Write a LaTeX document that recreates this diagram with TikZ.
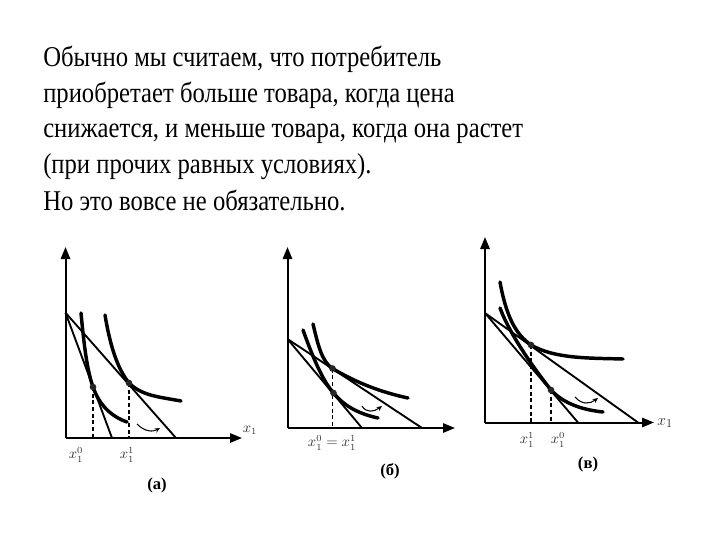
\documentclass[tikz,border=0pt]{standalone}
\usepackage{fontspec}
\setmainfont{Liberation Serif}
\newfontfamily\rusfont{Liberation Serif}[FakeStretch=0.86]
\usetikzlibrary{arrows.meta}
\tikzset{
  para/.style={anchor=base west, inner sep=0pt, font=\rusfont\fontsize{21.5}{24}\selectfont},
  axis/.style={line width=1.5pt, -{Triangle[length=9pt,width=7pt]}},
  budget/.style={line width=1.4pt},
  icurve/.style={line width=2.6pt, line cap=round},
  guide/.style={line width=0.8pt, dash pattern=on 3pt off 2pt},
  dot/.style={circle, fill=black!85, inner sep=0pt, minimum size=5pt},
  shiftarrow/.style={line width=0.8pt, -{Stealth[length=4pt,width=3.5pt]}},
  tick/.style={font=\fontsize{10.5}{12}\selectfont, text=black!80, inner sep=0pt},
  panel/.style={font=\bfseries\fontsize{12.5}{14}\selectfont, inner sep=0pt}
}
\begin{document}
\begin{tikzpicture}[x=0.75pt,y=-0.75pt]
\useasboundingbox (0,0) rectangle (720,540);
% text
\node[para] (t1) at (43,66) {Обычно мы считаем, что потребитель};
\node[para] (t2) at (43,102) {приобретает больше товара, когда цена};
\node[para] (t3) at (43,137) {снижается, и меньше товара, когда она растет};
\node[para] (t4) at (43,173) {(при прочих равных условиях).};
\node[para] (t5) at (43,210) {Но это вовсе не обязательно.};

% ---------- panel (a) ----------
\coordinate (aO) at (65.5,438);
\coordinate (aY) at (65.5,247);
\coordinate (aX) at (242,438);
\coordinate (aI) at (65.5,312.7);
\coordinate (aS) at (112,438);
\coordinate (aF) at (176,438);
\coordinate (aP0) at (93,387);
\coordinate (aP1) at (129,383);
\draw[axis] (aO) -- (aY);
\draw[axis] (aO) -- (aX);
\draw[budget] (aI) -- (aS);
\draw[budget] (aI) -- (aF);
\draw[icurve] (81,313) .. controls (84,345) and (87,370) .. (aP0)
  .. controls (99,404) and (110,416) .. (127,422);
\draw[icurve] (105,315) .. controls (110,345) and (117,368) .. (aP1)
  .. controls (142,396) and (160,397) .. (181,401);
\draw[guide] (aP0) -- (aP0 |- aO);
\draw[guide] (aP1) -- (aP1 |- aO);
\node[dot] (ad0) at (aP0) {};
\node[dot] (ad1) at (aP1) {};
\draw[shiftarrow] (137,424) .. controls (145,432) and (153,432) .. (160,428);
\node[tick] (ax1) at (250,430) {$x_1$};
\node[tick] (ax0l) at (76,455) {$x_1^0$};
\node[tick] (ax1l) at (127,455) {$x_1^1$};
\node[panel] (alab) at (157,485) {(а)};

% ---------- panel (b) ----------
\coordinate (bO) at (287.5,428);
\coordinate (bY) at (287.5,247);
\coordinate (bX) at (455,428);
\coordinate (bI) at (287.5,339);
\coordinate (bS) at (362,428);
\coordinate (bF) at (422,428);
\coordinate (bP1) at (332.5,368.5);
\coordinate (bP0) at (333.5,393);
\draw[axis] (bO) -- (bY);
\draw[axis] (bO) -- (bX);
\draw[budget] (bI) -- (bS);
\draw[budget] (bI) -- (bF);
\draw[icurve] (313,324) .. controls (318,345) and (322,362) .. (bP1)
  .. controls (355,382) and (380,392) .. (408,398);
\draw[icurve] (303,330) .. controls (312,355) and (322,380) .. (bP0)
  .. controls (345,407) and (360,414) .. (378,418);
\draw[guide] (bP1) -- (bP1 |- bO);
\node[dot] (bd0) at (bP0) {};
\node[dot] (bd1) at (bP1) {};
\draw[shiftarrow] (362,406) .. controls (366,413) and (374,412) .. (382,406);
\node[tick] (beq) at (332,443) {$x_1^0=x_1^1$};
\node[panel] (blab) at (390,471) {(б)};

% ---------- panel (c) ----------
\coordinate (cO) at (485,422.5);
\coordinate (cY) at (485,237);
\coordinate (cX) at (654,422.5);
\coordinate (cI) at (485,313);
\coordinate (cS) at (578,422.5);
\coordinate (cF) at (638,422.5);
\coordinate (cP1) at (531,345);
\coordinate (cP0) at (551,390);
\draw[axis] (cO) -- (cY);
\draw[axis] (cO) -- (cX);
\draw[budget] (cI) -- (cS);
\draw[budget] (cI) -- (cF);
\draw[icurve] (500,282) .. controls (506,315) and (515,334) .. (cP1)
  .. controls (555,359) and (590,358) .. (623,359);
\draw[icurve] (500,308) .. controls (510,335) and (535,370) .. (cP0)
  .. controls (565,405) and (585,410) .. (603,412);
\draw[guide] (cP1) -- (cP1 |- cO);
\draw[guide] (cP0) -- (cP0 |- cO);
\node[dot] (cd0) at (cP0) {};
\node[dot] (cd1) at (cP1) {};
\draw[shiftarrow] (575,397) .. controls (582,405) and (590,404) .. (598,398);
\node[tick, font=\fontsize{13}{15}\selectfont] (cx1) at (665,423) {$x_1$};
\node[tick] (cx1l) at (527,440) {$x_1^1$};
\node[tick] (cx0l) at (558,440) {$x_1^0$};
\node[panel] (clab) at (588,464) {(в)};
\end{tikzpicture}
\end{document}
